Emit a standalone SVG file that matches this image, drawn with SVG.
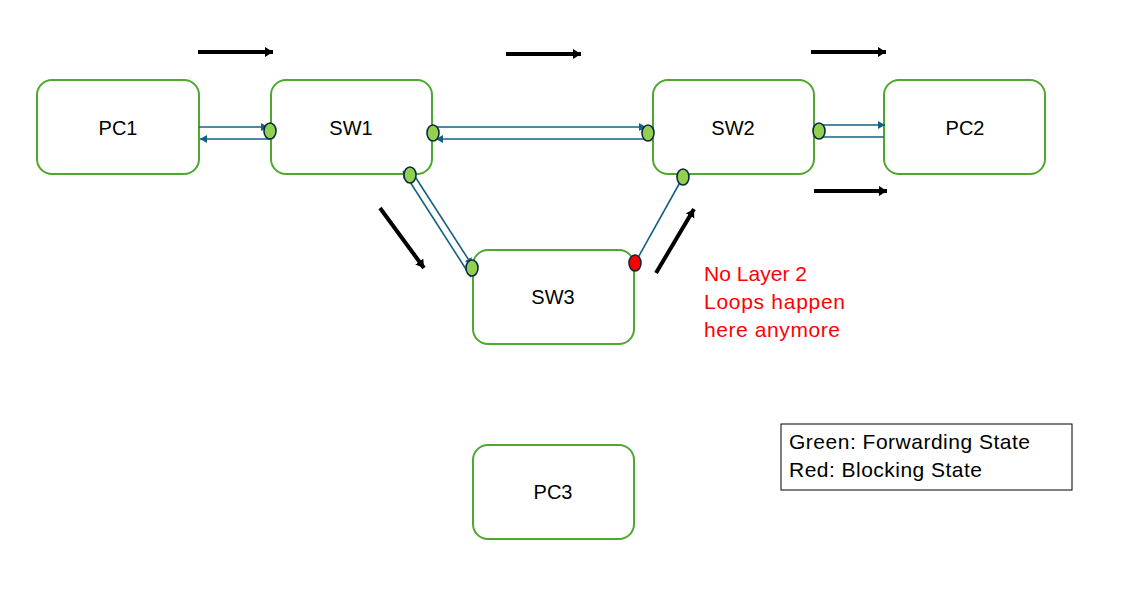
<svg xmlns="http://www.w3.org/2000/svg" width="1145" height="603" viewBox="0 0 1145 603">
<defs>
<style>
.node{fill:#fff;stroke:#4ea72e;stroke-width:2}
.lbl{font-family:"Liberation Sans",Arial,sans-serif;font-size:20px;fill:#000;text-anchor:middle}
.link{stroke:#156082;stroke-width:1.6;fill:none}
.flow{stroke:#000;stroke-width:4;fill:none}
.port{fill:#92d050;stroke:#0e2841;stroke-width:1.6}
.blk{fill:#ff0000;stroke:#0e2841;stroke-width:1.6}
.note{font-family:"Liberation Sans",Arial,sans-serif;font-size:21px;fill:#ff0000}
.leg{font-family:"Liberation Sans",Arial,sans-serif;font-size:21px;fill:#000}
</style>
<marker id="ah" markerUnits="userSpaceOnUse" markerWidth="10" markerHeight="10" refX="7" refY="4" orient="auto">
<path d="M0,0 L7,4 L0,8 Z" fill="#156082"/>
</marker>
<marker id="bh" markerUnits="userSpaceOnUse" markerWidth="12" markerHeight="12" refX="8" refY="5" orient="auto">
<path d="M0,0 L8,5 L0,10 Z" fill="#000"/>
</marker>
</defs>
<rect width="1145" height="603" fill="#fff"/>

<g id="PC1"><rect class="node" x="37" y="80" width="162" height="94" rx="15"/><text class="lbl" x="118" y="135">PC1</text></g>
<g id="SW1"><rect class="node" x="271" y="80" width="161" height="94" rx="15"/><text class="lbl" x="351" y="135">SW1</text></g>
<g id="SW2"><rect class="node" x="653" y="80" width="161" height="94" rx="15"/><text class="lbl" x="733" y="135">SW2</text></g>
<g id="PC2"><rect class="node" x="884" y="80" width="161" height="94" rx="15"/><text class="lbl" x="965" y="135">PC2</text></g>
<g id="SW3"><rect class="node" x="473" y="250" width="161" height="94" rx="15"/><text class="lbl" x="553" y="304">SW3</text></g>
<g id="PC3"><rect class="node" x="473" y="445" width="161" height="94" rx="15"/><text class="lbl" x="553" y="499">PC3</text></g>

<g id="connectors">
<line class="link" x1="199" y1="127" x2="268" y2="127" marker-end="url(#ah)"/>
<line class="link" x1="270" y1="139" x2="200" y2="139" marker-end="url(#ah)"/>
<line class="link" x1="433" y1="127" x2="646" y2="127" marker-end="url(#ah)"/>
<line class="link" x1="648" y1="139" x2="436" y2="139" marker-end="url(#ah)"/>
<line class="link" x1="819" y1="125" x2="885" y2="125" marker-end="url(#ah)"/>
<line class="link" x1="884" y1="137" x2="819" y2="137"/>
<line class="link" x1="471" y1="277" x2="403" y2="171" marker-end="url(#ah)"/>
<line class="link" x1="414" y1="175" x2="472" y2="265" marker-end="url(#ah)"/>
<line class="link" x1="683" y1="177" x2="635" y2="263"/>
</g>

<g id="ports">
<ellipse class="port" cx="270" cy="131" rx="6" ry="8"/>
<ellipse class="port" cx="433" cy="133" rx="6" ry="8"/>
<ellipse class="port" cx="410" cy="175" rx="6" ry="8"/>
<ellipse class="port" cx="648" cy="133" rx="6" ry="8"/>
<ellipse class="port" cx="819" cy="131" rx="6" ry="8"/>
<ellipse class="port" cx="683" cy="177" rx="6" ry="8"/>
<ellipse class="port" cx="472" cy="268" rx="6" ry="8"/>
<ellipse class="blk" cx="635" cy="263" rx="6" ry="8"/>
</g>

<g id="flows">
<line class="flow" x1="198" y1="52" x2="273" y2="52" marker-end="url(#bh)"/>
<line class="flow" x1="506" y1="54" x2="581" y2="54" marker-end="url(#bh)"/>
<line class="flow" x1="811" y1="52" x2="886" y2="52" marker-end="url(#bh)"/>
<line class="flow" x1="814" y1="191" x2="887" y2="191" marker-end="url(#bh)"/>
<line class="flow" x1="380" y1="208" x2="424" y2="268" marker-end="url(#bh)"/>
<line class="flow" x1="656" y1="273" x2="694" y2="209" marker-end="url(#bh)"/>
</g>

<g id="note">
<text class="note" x="704" y="281" textLength="103" lengthAdjust="spacing">No Layer 2</text>
<text class="note" x="704" y="309" textLength="141" lengthAdjust="spacing">Loops happen</text>
<text class="note" x="704" y="337" textLength="136" lengthAdjust="spacing">here anymore</text>
</g>

<g id="legend">
<rect x="781" y="424" width="291" height="66" fill="#fff" stroke="#000" stroke-width="1"/>
<text class="leg" x="789" y="449" textLength="241" lengthAdjust="spacing">Green: Forwarding State</text>
<text class="leg" x="789" y="477" textLength="193" lengthAdjust="spacing">Red: Blocking State</text>
</g>
</svg>
